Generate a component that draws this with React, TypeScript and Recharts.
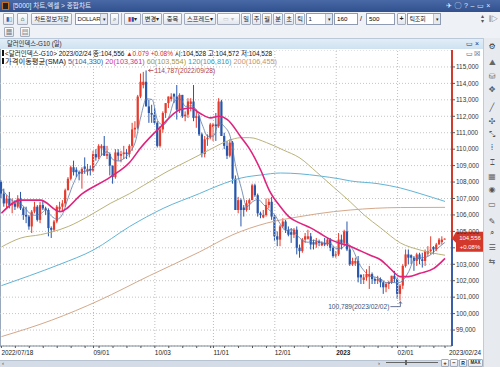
import React from 'react';
import { ComposedChart, Bar, Line, XAxis, YAxis, CartesianGrid, ReferenceLine, ReferenceDot } from 'recharts';

// ---------- data (daily candles, 2022/07/18 .. 2023/02/24) ----------
const open = [
  108.0, 107.3, 106.7, 107.0, 106.6, 106.7, 106.5, 107.0, 106.4, 106.0,
  105.9, 105.3, 106.2, 106.5, 105.7, 106.6, 106.4, 106.3, 105.2, 105.1,
  105.6, 106.35, 106.5, 106.7, 107.5, 108.2, 108.9, 108.75, 108.6, 108.5,
  108.95, 108.65, 108.8, 108.7, 109.7, 109.5, 110.05, 110.2, 109.6, 109.7,
  109.0, 108.3, 109.8, 109.6, 109.7, 109.8, 109.7, 110.2, 111.2, 111.3,
  113.2, 113.9, 114.1, 112.6, 112.2, 112.1, 111.6, 110.2, 111.2, 112.2,
  112.8, 113.05, 113.35, 113.2, 112.4, 113.3, 112.0, 112.1, 112.75, 112.9,
  111.9, 112.0, 110.9, 109.7, 110.6, 110.7, 111.35, 111.5, 111.4, 112.9,
  110.8, 110.2, 109.6, 110.4, 108.2, 106.3, 106.9, 106.45, 106.3, 106.7,
  106.9, 107.8, 107.2, 106.1, 105.85, 106.0, 106.6, 106.8, 105.9, 104.7,
  104.5, 105.3, 105.6, 105.1, 104.95, 104.8, 105.1, 104.0, 103.8, 104.5,
  104.55, 104.7, 104.35, 104.2, 104.4, 104.15, 104.3, 104.2, 104.5, 104.0,
  103.5, 103.6, 104.5, 104.3, 105.0, 103.9, 103.0, 103.05, 103.2, 102.35,
  102.05, 102.2, 102.25, 102.4, 102.1, 102.0, 102.1, 101.9, 101.6, 101.8,
  101.9, 102.3, 102.1, 101.2, 101.7, 102.9, 103.6, 103.55, 103.4, 103.2,
  103.6, 103.3, 103.2, 103.65, 103.8, 104.05, 103.9, 104.2, 104.35, 104.528,
];
const high = [
  108.1, 107.6, 107.2, 107.4, 107.0, 106.9, 107.2, 107.4, 106.5, 106.5,
  106.0, 106.3, 106.8, 106.6, 106.8, 106.9, 106.5, 106.4, 105.3, 105.7,
  106.6, 106.8, 106.9, 107.6, 108.3, 109.0, 109.3, 108.9, 108.7, 108.9,
  109.5, 109.1, 109.0, 109.9, 110.0, 110.3, 110.3, 110.8, 110.2, 109.8,
  109.0, 110.0, 110.0, 109.9, 110.2, 110.0, 110.3, 111.6, 111.7, 113.3,
  114.6, 114.7, 114.787, 113.0, 112.7, 112.5, 111.7, 111.4, 112.3, 112.8,
  113.2, 113.4, 113.4, 113.9, 113.4, 113.3, 112.3, 113.1, 113.1, 113.9,
  112.4, 112.1, 111.0, 110.8, 110.9, 111.6, 111.6, 112.2, 113.1, 113.0,
  111.0, 110.5, 110.6, 110.5, 108.4, 107.1, 107.0, 106.6, 106.9, 107.0,
  107.9, 107.9, 107.3, 106.2, 106.3, 107.0, 107.0, 107.1, 106.0, 105.0,
  105.4, 105.8, 105.7, 105.3, 105.2, 105.2, 105.3, 104.2, 104.6, 104.9,
  105.1, 104.9, 104.5, 104.6, 104.5, 104.4, 104.6, 104.6, 104.6, 104.1,
  103.8, 104.9, 104.8, 105.1, 105.6, 104.1, 103.4, 103.4, 103.5, 102.4,
  102.4, 102.7, 102.9, 102.5, 102.2, 102.3, 102.2, 102.0, 101.9, 102.0,
  102.3, 102.6, 102.2, 101.8, 103.0, 103.9, 103.9, 103.6, 103.5, 103.7,
  103.7, 103.7, 103.9, 104.1, 104.7, 104.1, 104.3, 104.6, 104.7, 104.572,
];
const low = [
  107.0, 106.5, 106.4, 106.4, 106.1, 106.3, 106.4, 106.3, 105.7, 105.5,
  105.1, 104.9, 106.1, 105.6, 105.5, 106.3, 106.0, 104.7, 104.6, 105.0,
  105.5, 106.2, 106.2, 106.5, 107.5, 108.1, 108.4, 108.3, 108.1, 107.6,
  108.5, 108.4, 108.4, 108.6, 109.3, 109.4, 109.6, 109.6, 109.4, 108.4,
  107.9, 108.2, 109.3, 109.2, 109.4, 109.4, 109.5, 109.9, 110.7, 111.2,
  113.1, 113.7, 112.6, 111.6, 111.6, 111.5, 110.1, 110.1, 111.0, 111.9,
  112.5, 112.9, 112.8, 111.8, 112.2, 111.9, 111.7, 111.9, 112.3, 111.7,
  111.3, 110.8, 109.5, 109.5, 110.2, 110.6, 110.5, 110.5, 111.3, 110.8,
  110.0, 109.4, 109.5, 107.9, 106.3, 106.1, 105.3, 105.9, 106.2, 106.3,
  106.9, 107.1, 105.9, 105.8, 105.8, 105.9, 106.4, 105.7, 104.4, 104.1,
  104.1, 105.2, 104.9, 104.7, 104.3, 104.6, 103.6, 103.4, 103.7, 104.3,
  104.5, 103.9, 103.9, 104.0, 104.1, 104.1, 104.1, 104.1, 103.8, 103.4,
  103.4, 103.5, 103.9, 104.1, 103.8, 102.9, 102.9, 102.9, 101.9, 101.8,
  101.8, 102.0, 101.5, 101.8, 101.8, 101.8, 101.6, 101.2, 101.3, 101.5,
  101.8, 101.9, 100.9, 100.789, 101.5, 102.8, 103.0, 103.0, 102.6, 102.9,
  103.0, 102.8, 102.9, 103.5, 103.6, 103.6, 103.8, 104.2, 104.2, 104.528,
];
const close = [
  107.3, 106.7, 107.0, 106.6, 106.7, 106.5, 107.0, 106.4, 106.0, 105.9,
  105.3, 106.2, 106.5, 105.7, 106.6, 106.4, 106.3, 105.2, 105.1, 105.6,
  106.5, 106.5, 106.7, 107.5, 108.2, 108.9, 108.6, 108.6, 108.5, 108.8,
  108.8, 108.8, 108.7, 109.7, 109.5, 110.2, 110.2, 109.6, 109.7, 109.0,
  108.3, 109.8, 109.6, 109.7, 109.8, 109.7, 110.2, 111.2, 111.3, 113.2,
  114.1, 114.1, 112.6, 112.2, 112.1, 111.6, 110.2, 111.2, 112.2, 112.8,
  113.2, 113.2, 113.2, 112.4, 113.3, 112.0, 112.1, 112.9, 112.9, 111.9,
  112.0, 110.9, 109.7, 110.6, 110.7, 111.5, 111.5, 111.4, 112.9, 110.8,
  110.2, 109.6, 110.4, 108.2, 106.3, 106.9, 106.3, 106.3, 106.7, 106.9,
  107.8, 107.2, 106.1, 106.0, 106.0, 106.6, 106.8, 105.9, 104.7, 104.5,
  105.3, 105.6, 105.1, 104.8, 104.8, 105.1, 104.0, 103.8, 104.5, 104.7,
  104.7, 104.2, 104.2, 104.4, 104.3, 104.3, 104.2, 104.5, 104.0, 103.5,
  103.6, 104.5, 104.3, 105.0, 103.9, 103.0, 103.2, 103.2, 102.2, 102.2,
  102.2, 102.4, 102.4, 102.1, 102.0, 102.1, 101.9, 101.6, 101.8, 101.9,
  102.3, 102.1, 101.2, 101.7, 102.9, 103.6, 103.4, 103.4, 103.2, 103.6,
  103.3, 103.2, 103.8, 103.8, 103.9, 103.9, 104.2, 104.5, 104.5, 104.556,
];

// moving averages at sample positions
const ma5Idx = [0, 2, 4, 6, 8, 10, 12, 14, 16, 18, 20, 22, 24, 26, 28, 30, 32, 34, 36, 38, 40, 42, 44, 46, 48, 50, 52, 54, 56, 58, 60, 62, 64, 66, 68, 70, 72, 74, 76, 78, 80, 82, 84, 86, 88, 90, 92, 94, 96, 98, 100, 102, 104, 106, 108, 110, 112, 114, 116, 118, 120, 122, 124, 126, 128, 130, 132, 134, 136, 138, 140, 142, 144, 146, 148, 150, 152, 154, 156, 158, 159];
const ma5Val = [107.6, 107.2, 106.86, 106.76, 106.52, 106.12, 105.98, 106.06, 106.3, 105.92, 105.74, 106.08, 107.08, 107.98, 108.56, 108.66, 108.72, 109.1, 109.66, 109.84, 109.36, 109.28, 109.44, 109.8, 110.44, 112.0, 113.06, 113.02, 111.74, 111.46, 111.92, 112.92, 113.06, 112.6, 112.64, 112.36, 111.48, 110.78, 110.8, 111.6, 111.36, 110.78, 108.94, 107.62, 106.5, 106.8, 106.94, 106.62, 106.3, 106.0, 105.44, 105.04, 105.12, 104.76, 104.44, 104.34, 104.46, 104.36, 104.28, 104.26, 103.96, 103.98, 104.26, 103.88, 103.1, 102.6, 102.28, 102.22, 102.1, 101.88, 101.9, 101.86, 102.04, 102.56, 103.3, 103.38, 103.42, 103.6, 103.92, 104.2, 104.33];
const ma20Idx = [0, 7, 14, 21, 29, 39, 46, 50, 57, 64, 68, 71, 75, 78, 81, 86, 89, 93, 96, 100, 103, 107, 111, 114, 118, 121, 125, 128, 132, 136, 139, 143, 146, 150, 155, 159];
const ma20Val = [106.1, 106.9, 106.9, 106.2, 107.3, 108.3, 109.2, 110.1, 111.35, 112.4, 112.5, 112.2, 111.9, 112.0, 111.8, 110.7, 110.0, 108.7, 107.5, 106.5, 105.9, 105.5, 105.2, 104.9, 104.5, 104.3, 104.1, 103.87, 103.56, 103.26, 102.8, 102.25, 102.25, 102.45, 102.75, 103.36];
const ma60Idx = [0, 7, 14, 18, 24, 31, 39, 46, 51, 59, 67, 75, 81, 86, 89, 95, 101, 107, 113, 119, 125, 130, 136, 143, 150, 159];
const ma60Val = [104.05, 104.6, 104.8, 104.96, 105.3, 105.9, 106.7, 107.3, 107.8, 108.6, 109.3, 110.0, 110.5, 110.7, 110.7, 110.4, 109.95, 109.46, 108.6, 107.7, 106.8, 106.0, 105.2, 104.3, 103.87, 103.55];
const ma120Idx = [0, 10, 21, 33, 46, 58, 71, 78, 86, 93, 100, 107, 114, 121, 125, 135, 143, 150, 159];
const ma120Val = [101.7, 102.3, 103.0, 103.87, 105.3, 106.4, 107.3, 107.8, 108.25, 108.43, 108.55, 108.5, 108.37, 108.2, 108.07, 107.9, 107.64, 107.3, 106.82];
const ma200Idx = [0, 18, 35, 53, 71, 83, 95, 107, 119, 125, 143, 159];
const ma200Val = [98.6, 99.6, 100.8, 102.3, 103.75, 104.8, 105.5, 105.9, 106.2, 106.3, 106.45, 106.46];

const monthIdx = [33, 55, 76, 98, 120, 142];
const xLabelIdx = [0, 33, 55, 76, 98, 120, 142, 159];
const xLabels = ['2022/07/18', '09/01', '10/03', '11/01', '12/01', '2023', '02/01', '2023/02/24'];
const weekIdx = [0, 5, 10, 15, 20, 25, 30, 35, 40, 45, 50, 55, 60, 65, 70, 75, 80, 85, 90, 95, 100, 105, 110, 115, 120, 125, 130, 135, 140, 145, 150, 155];
const yTicks = [99, 100, 101, 102, 103, 104, 105, 106, 107, 108, 109, 110, 111, 112, 113, 114, 115];
const lastPrice = 104.556;
const peak = { i: 52, v: 114.787, label: '114,787(2022/09/28)' };
const trough = { i: 143, v: 100.789, label: '100,789(2023/02/02)' };

// ---------- table ----------
const SLOTS = 162;
const data: any[] = Array.from({ length: SLOTS }, (_, i) => {
  const r: any = { i };
  if (i < close.length) {
    r.o = open[i]; r.h = high[i]; r.l = low[i]; r.c = close[i];
    r.range = [low[i], high[i]];
  }
  return r;
});
const put = (key: string, idx: number[], val: number[]) => idx.forEach((k, j) => { data[k][key] = val[j]; });
put('ma5', ma5Idx, ma5Val);
put('ma20', ma20Idx, ma20Val);
put('ma60', ma60Idx, ma60Val);
put('ma120', ma120Idx, ma120Val);
put('ma200', ma200Idx, ma200Val);
const xTicks = Array.from(new Set([...weekIdx, ...xLabelIdx])).sort((a, b) => a - b);

const UP = '#e63a2c';
const DOWN = '#2756ab';
const NUM = '"Liberation Sans", "Noto Sans CJK KR", sans-serif';
const UI = '"Liberation Sans", "Noto Sans CJK KR", sans-serif';

const fmt = (v: number) => v.toFixed(3).replace('.', ',');

const Candle = (props: any) => {
  const p = props.payload || props;
  if (p == null || p.o == null) return <g />;
  const { x, y, width, height } = props;
  const top = Math.min(y, y + height);
  const hh = Math.abs(height);
  const ppu = p.h - p.l > 0 ? hh / (p.h - p.l) : 0;
  const cx = x + width / 2;
  const col = p.c >= p.o ? UP : DOWN;
  const bTop = top + (p.h - Math.max(p.o, p.c)) * ppu;
  const bBot = top + (p.h - Math.min(p.o, p.c)) * ppu;
  return (
    <g>
      <line x1={cx} x2={cx} y1={top} y2={top + hh} stroke={col} strokeWidth={1} />
      <rect x={cx - 1.1} y={bTop} width={2.2} height={Math.max(1, bBot - bTop)} fill={col} />
    </g>
  );
};

const XTick = (p: any) => {
  const k = xLabelIdx.indexOf(p.payload?.value);
  if (k < 0) return <g />;
  const last = k === xLabelIdx.length - 1;
  return (
    <text x={p.x + (last ? 4 : 0)} y={p.y + 5} fontSize={6.4} fontFamily={NUM} fill="#222"
      fontWeight={xLabels[k] === '2023' ? 700 : 400} textAnchor="start">{xLabels[k]}</text>
  );
};

// the price tag is drawn over the axis; the label it covers is left out
const YTick = (p: any) => {
  const v = p.payload.value;
  if (v < lastPrice && lastPrice - v < 0.8) return <g />;
  return <text x={p.x} y={p.y + 2.3} fontSize={6.4} fontFamily={NUM} fill="#333" textAnchor="start">{fmt(v)}</text>;
};

const PriceTag = (p: any) => {
  const vb = p.viewBox || {};
  const right = (vb.x || 0) + (vb.width || 0);
  const y = vb.y || 0;
  return (
    <g>
      <polygon points={`${right},${y} ${right + 4},${y - 7} ${right + 31},${y - 7} ${right + 31},${y + 13} ${right + 4},${y + 13} ${right + 4},${y + 4}`} fill="#d2392c" />
      <text x={right + 18} y={y + 1} fontSize={6} fontFamily={NUM} fill="#fff" textAnchor="middle">{fmt(lastPrice)}</text>
      <text x={right + 18} y={y + 10.5} fontSize={6} fontFamily={NUM} fill="#fff" textAnchor="middle">+0.08%</text>
    </g>
  );
};

const PeakLabel = (p: any) => {
  const vb = p.viewBox || {};
  const cx = (vb.x || 0) + (vb.width || 0) / 2;
  const cy = (vb.y || 0) + (vb.height || 0) / 2;
  return (
    <g>
      <line x1={cx + 2} x2={cx + 7} y1={cy} y2={cy} stroke="#b04040" strokeWidth={0.8} />
      <polyline points={`${cx + 4},${cy - 1.5} ${cx + 2},${cy} ${cx + 4},${cy + 1.5}`} fill="none" stroke="#b04040" strokeWidth={0.8} />
      <text x={cx + 8} y={cy + 2.3} fontSize={6.6} fontFamily={NUM} fill="#b04040">{peak.label}</text>
    </g>
  );
};

const TroughLabel = (p: any) => {
  const vb = p.viewBox || {};
  const cx = (vb.x || 0) + (vb.width || 0) / 2;
  const cy = (vb.y || 0) + (vb.height || 0) / 2;
  return (
    <g>
      <polyline points={`${cx - 10},${cy + 6} ${cx},${cy + 6} ${cx},${cy + 1}`} fill="none" stroke="#40507a" strokeWidth={0.8} />
      <polyline points={`${cx - 1.5},${cy + 3} ${cx},${cy + 1} ${cx + 1.5},${cy + 3}`} fill="none" stroke="#40507a" strokeWidth={0.8} />
      <text x={cx - 11} y={cy + 8.3} fontSize={6.6} fontFamily={NUM} fill="#40507a" textAnchor="end">{trough.label}</text>
    </g>
  );
};

const Btn = ({ x, y, w, h = 12, children, style }: any) => (
  <div style={{
    position: 'absolute', left: x, top: y, width: w, height: h, boxSizing: 'border-box',
    border: '1px solid #a2acbc', background: 'linear-gradient(#ffffff,#e2e7ee)', fontSize: 6.2,
    lineHeight: `${h - 2}px`, textAlign: 'center', color: '#222', overflow: 'hidden', whiteSpace: 'nowrap',
    borderRadius: 1, ...style,
  }}>{children}</div>
);

const Combo = ({ x, y, w, text }: any) => (
  <div style={{
    position: 'absolute', left: x, top: y, width: w, height: 12, boxSizing: 'border-box',
    border: '1px solid #8f9bb0', background: '#fff', fontSize: 6, lineHeight: '10px', color: '#222',
    whiteSpace: 'nowrap', overflow: 'hidden',
  }}>
    <span style={{ paddingLeft: 1.5, letterSpacing: -0.2 }}>{text}</span>
    <span style={{ position: 'absolute', right: 0, top: 0, width: 6, height: 10, background: '#e6eaf0', borderLeft: '1px solid #b8c0cc', fontSize: 5, textAlign: 'center' }}>▾</span>
  </div>
);

const sideIcons: [number, string, string][] = [
  [47, '⚙', '#333'], [63, '⛰', '#666'], [77, '⛁', '#666'], [90, '✥', '#555'],
  [108, '╱', '#555'], [122, '✣', '#555'], [135, '⤡', '#555'], [148, '⁞', '#555'],
  [163, '⌶', '#555'], [177, '▦', '#666'], [190, '◉', '#555'], [205, '▭', '#555'],
  [222, '✎', '#555'], [233, '⌕', '#555'], [248, '☰', '#555'], [262, '⇆', '#555'],
];

export default function App() {
  return (
    <div style={{ position: 'absolute', left: 0, top: 0, width: 500, height: 367, overflow: 'hidden', background: '#e9edf2', fontFamily: UI }}>
      {/* title bar */}
      <div style={{ position: 'absolute', left: 0, top: 0, width: 500, height: 12, background: 'linear-gradient(#4868a6,#30508e)' }} />
      <div style={{ position: 'absolute', left: 2, top: 2, width: 7, height: 8, background: '#222', border: '1px solid #c07020', boxSizing: 'border-box' }} />
      <div style={{ position: 'absolute', left: 13, top: 0, height: 12, lineHeight: '12px', fontSize: 6.6, color: '#e6ecf7' }}>[5000] 차트,엑셀 &gt; 종합차트</div>
      <div style={{ position: 'absolute', left: 446, top: 0, height: 12, lineHeight: '12px', fontSize: 7, color: '#e6ecf7', letterSpacing: 2.5 }}>✈◯?–▭×</div>

      {/* toolbar row 1 */}
      <div style={{ position: 'absolute', left: 0, top: 12, width: 500, height: 26, background: '#eef1f5', borderBottom: '1px solid #c9d0da' }} />
      <Btn x={3} y={13} w={11} style={{ color: '#3a5fa8' }}>▮▯</Btn>
      <Btn x={17} y={13} w={11}>⌂</Btn>
      <Btn x={31} y={13} w={41}>차트정보저장</Btn>
      <Combo x={75} y={13} w={33} text="DOLLAR" />
      <Btn x={110} y={13} w={9}>⌕</Btn>
      <div style={{ position: 'absolute', left: 121, top: 13, width: 1, height: 12, background: '#b0b8c4' }} />
      <Btn x={124} y={13} w={17}><span style={{ color: '#d03030' }}>▮</span><span style={{ color: '#2050b0' }}>▮</span>▾</Btn>
      <Btn x={142} y={13} w={20}>변경▾</Btn>
      <Btn x={163} y={13} w={19}>중복</Btn>
      <Btn x={184} y={13} w={32}>스프레드▾</Btn>
      <Btn x={217} y={13} w={23} style={{ color: '#bbb' }}>▭ ▾</Btn>
      <Btn x={241} y={13} w={10}>일</Btn>
      <Btn x={252} y={13} w={9}>주</Btn>
      <Btn x={262} y={13} w={10}>월</Btn>
      <Btn x={273} y={13} w={10}>분</Btn>
      <Btn x={284} y={13} w={10}>초</Btn>
      <Btn x={295} y={13} w={10}>틱</Btn>
      <Combo x={306} y={13} w={27} text="1" />
      <div style={{ position: 'absolute', left: 334, top: 13, width: 24, height: 12, boxSizing: 'border-box', border: '1px solid #8f9bb0', background: '#fff', fontSize: 6.2, lineHeight: '10px', paddingLeft: 2 }}>160</div>
      <div style={{ position: 'absolute', left: 360, top: 13, fontSize: 7, lineHeight: '12px' }}>/</div>
      <div style={{ position: 'absolute', left: 366, top: 13, width: 29, height: 12, boxSizing: 'border-box', border: '1px solid #8f9bb0', background: '#fff', fontSize: 6.2, lineHeight: '10px', paddingLeft: 2 }}>500</div>
      <Btn x={397} y={13} w={9} style={{ fontWeight: 700, fontSize: 7 }}>+</Btn>
      <Combo x={407} y={13} w={34} text="틱조회" />
      <div style={{ position: 'absolute', left: 481, top: 14, fontSize: 6, color: '#555', lineHeight: '5px', width: 5 }}>▴<br />▾</div>
      <div style={{ position: 'absolute', left: 489, top: 13, fontSize: 7, color: '#555' }}>⫿▷</div>
      {/* toolbar row 2 */}
      <Btn x={4} y={27} w={10} h={10}>▦</Btn>
      <Btn x={20} y={27} w={10} h={10}>▤</Btn>

      {/* chart panel title */}
      <div style={{ position: 'absolute', left: 0, top: 38, width: 483, height: 11, background: 'linear-gradient(#e2eef8,#cfe1f0)', borderTop: '1px solid #b9c9da', boxSizing: 'border-box' }} />
      <div style={{ position: 'absolute', left: 7, top: 38, height: 11, lineHeight: '11px', fontSize: 6.3, color: '#1c2a3a' }}>달러인덱스-G10 (일)</div>
      <div style={{ position: 'absolute', left: 466, top: 38, height: 11, lineHeight: '11px', fontSize: 7, color: '#333', letterSpacing: 2 }}>▭×</div>

      {/* right sidebar */}
      <div style={{ position: 'absolute', left: 483, top: 38, width: 17, height: 329, background: '#e7ebf0', borderLeft: '1px solid #c3cad4', boxSizing: 'border-box' }} />
      {sideIcons.map(([y, g, c], k) => (
        <div key={k} style={{ position: 'absolute', left: 484, top: y - 5, width: 16, height: 10, lineHeight: '10px', textAlign: 'center', fontSize: 8, color: c, fontFamily: '"DejaVu Sans", sans-serif' }}>{g}</div>
      ))}

      {/* chart */}
      <div style={{ position: 'absolute', left: 0, top: 49, width: 483, height: 311, background: '#fff' }} />
      <div style={{ position: 'absolute', left: 0, top: 49, width: 1, height: 297, background: '#9aa8bb' }} />
      <div style={{ position: 'absolute', left: 0, top: 50 }}>
        <ComposedChart width={483} height={310} data={data} margin={{ top: 0, right: 0, bottom: 0, left: 0 }}>
          <defs>
            <linearGradient id="axGrad" gradientUnits="userSpaceOnUse" x1="0" y1="0" x2="0" y2="296">
              <stop offset="0.638" stopColor="#d23a2c" />
              <stop offset="0.638" stopColor="#3a5ea8" />
            </linearGradient>
          </defs>
          <CartesianGrid vertical={false} stroke="#c4c4c4" strokeDasharray="1 2" />
          <XAxis dataKey="i" type="category" ticks={xTicks} interval={0} tick={<XTick />}
            height={14} tickSize={2} axisLine={{ stroke: '#7f8a99' }} tickLine={{ stroke: '#555' }} />
          <YAxis orientation="right" domain={[98.03, 116.03]} allowDataOverflow ticks={yTicks} interval={0}
            width={31} tick={<YTick />} tickSize={3} tickMargin={1}
            axisLine={{ stroke: 'url(#axGrad)', strokeWidth: 2 }} tickLine={{ stroke: '#555' }} />
          {monthIdx.map((m) => (
            <ReferenceLine key={m} x={m} stroke="#bdbdbd" strokeDasharray="1 2" />
          ))}
          <Line dataKey="ma200" type="monotone" stroke="#d4a88a" strokeWidth={1} dot={false} connectNulls isAnimationActive={false} />
          <Line dataKey="ma120" type="monotone" stroke="#62b4d6" strokeWidth={1} dot={false} connectNulls isAnimationActive={false} />
          <Line dataKey="ma60" type="monotone" stroke="#bab27a" strokeWidth={1} dot={false} connectNulls isAnimationActive={false} />
          <Bar dataKey="range" barSize={2} shape={<Candle />} isAnimationActive={false} />
          <Line dataKey="ma5" type="monotone" stroke="#5a78a8" strokeWidth={0.8} dot={false} connectNulls isAnimationActive={false} />
          <Line dataKey="ma20" type="monotone" stroke="#e0237e" strokeWidth={1.6} dot={false} connectNulls isAnimationActive={false} />
          <ReferenceLine y={lastPrice} stroke="none" label={(p: any) => <PriceTag {...p} />} />
          <ReferenceDot x={peak.i} y={peak.v} r={1} fill="none" stroke="none" label={(p: any) => <PeakLabel {...p} />} />
          <ReferenceDot x={trough.i} y={trough.v} r={1} fill="none" stroke="none" label={(p: any) => <TroughLabel {...p} />} />
        </ComposedChart>
      </div>

      {/* info lines */}
      <div style={{ position: 'absolute', left: 2, top: 50, height: 8, lineHeight: '8px', fontSize: 6.5, color: '#111', whiteSpace: 'nowrap' }}>
        <span style={{ display: 'inline-block', width: 2, height: 6, background: '#111', marginRight: 1 }} />
        &lt;달러인덱스-G10&gt; 2023/02/24 종:104,556 <span style={{ color: '#e02424' }}>▲0.079 +0.08%</span> 시:104,528 고:104,572 저:104,528
      </div>
      <div style={{ position: 'absolute', left: 2, top: 58, height: 8, lineHeight: '8px', fontSize: 7.3, color: '#111', whiteSpace: 'nowrap' }}>
        <span style={{ display: 'inline-block', width: 2, height: 6, background: '#111', marginRight: 1 }} />
        가격이동평균(SMA) <span style={{ color: '#3f6398' }}>5(104,330)</span> <span style={{ color: '#c8349a' }}>20(103,361)</span> <span style={{ color: '#9f9a3c' }}>60(103,554)</span> <span style={{ color: '#3a9cc4' }}>120(106,816)</span> <span style={{ color: '#c49274' }}>200(106,455)</span>
      </div>
      <div style={{ position: 'absolute', left: 466, top: 50, fontSize: 6.5, color: '#555', letterSpacing: 1 }}>▭☒</div>

      {/* bottom scroll bar */}
      <div style={{ position: 'absolute', left: 0, top: 360, width: 483, height: 7, background: '#d3dce7', borderTop: '1px solid #b8c3d1', boxSizing: 'border-box' }} />
      <div style={{ position: 'absolute', left: 2, top: 359, fontSize: 6, color: '#444', lineHeight: '8px' }}>‹</div>
      <div style={{ position: 'absolute', left: 378, top: 359, fontSize: 6, color: '#444', lineHeight: '8px' }}>›</div>
      <div style={{ position: 'absolute', left: 386, top: 362, width: 52, height: 1, background: '#666' }} />
      <div style={{ position: 'absolute', left: 405, top: 360, width: 2, height: 5, background: '#666' }} />
      <Btn x={441} y={359} w={8} h={8} style={{ fontSize: 6, lineHeight: '6px', fontWeight: 700 }}>+</Btn>
      <Btn x={450} y={359} w={8} h={8} style={{ fontSize: 6, lineHeight: '6px', fontWeight: 700 }}>−</Btn>
      <Btn x={459} y={359} w={8} h={8} style={{ fontSize: 5, lineHeight: '6px', fontWeight: 700 }}>R</Btn>
      <Btn x={468} y={359} w={15} h={8} style={{ fontSize: 4.5, lineHeight: '6px', fontWeight: 700 }}>MAX</Btn>
    </div>
  );
}
